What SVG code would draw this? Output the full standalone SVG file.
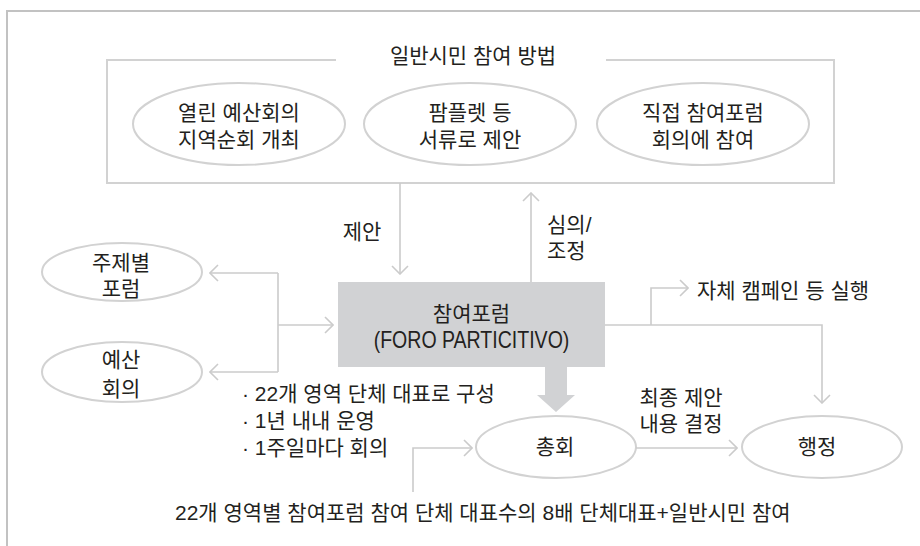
<svg xmlns="http://www.w3.org/2000/svg" width="920" height="546" viewBox="0 0 920 546">
<style>
text{font-family:"Liberation Sans","Noto Sans CJK KR",sans-serif;font-size:21px;fill:#231f20}
.c{text-anchor:middle}
.ell{fill:#fff;stroke:#d2d2d2;stroke-width:2}
.ln{fill:none;stroke:#cbcbcb;stroke-width:1.6}
</style>
<defs>
<marker id="ah" markerUnits="userSpaceOnUse" viewBox="0 0 10 18" refX="9" refY="9" markerWidth="10" markerHeight="18" orient="auto">
<path d="M1,1 L9,9 L1,17" fill="none" stroke="#cbcbcb" stroke-width="1.6"/>
</marker>
</defs>
<rect width="920" height="546" fill="#fff"/>
<path d="M7,546 V11 H920" fill="none" stroke="#c2c2c2" stroke-width="2"/>
<g id="citizen-box">
<path d="M336,60 H107 V183 H834 V60 H606" fill="none" stroke="#d2d2d2" stroke-width="2"/>
<text class="c" x="473" y="63">일반시민 참여 방법</text>
</g>
<g id="node-open-budget">
<ellipse class="ell" cx="239" cy="124" rx="106" ry="41"/>
<text class="c" x="239" y="120">열린 예산회의</text>
<text class="c" x="239" y="147">지역순회 개최</text>
</g>
<g id="node-pamphlet">
<ellipse class="ell" cx="470" cy="124" rx="106" ry="41"/>
<text class="c" x="470" y="120">팜플렛 등</text>
<text class="c" x="470" y="147">서류로 제안</text>
</g>
<g id="node-direct">
<ellipse class="ell" cx="703" cy="124" rx="106" ry="41"/>
<text class="c" x="703" y="120">직접 참여포럼</text>
<text class="c" x="703" y="147">회의에 참여</text>
</g>
<g id="node-forum">
<rect x="338" y="282" width="267" height="85" fill="#d1d2d4"/>
<text class="c" x="471.5" y="321">참여포럼</text>
<text class="c" transform="translate(471.5,348) scale(0.85,1)" style="font-size:23px">(FORO PARTICITIVO)</text>
</g>
<g id="node-theme">
<ellipse class="ell" cx="122" cy="272" rx="80" ry="29"/>
<text class="c" x="121" y="270">주제별</text>
<text class="c" x="121" y="296">포럼</text>
</g>
<g id="node-budget">
<ellipse class="ell" cx="122" cy="372" rx="80" ry="30"/>
<text class="c" x="121" y="367">예산</text>
<text class="c" x="121" y="396">회의</text>
</g>
<g id="node-assembly">
<ellipse class="ell" cx="556" cy="447" rx="80" ry="31"/>
<text class="c" x="555" y="454">총회</text>
</g>
<g id="node-admin">
<ellipse class="ell" cx="822" cy="447" rx="80" ry="31"/>
<text class="c" x="817" y="454">행정</text>
</g>
<g id="connectors">
<path class="ln" d="M400,183 V274" marker-end="url(#ah)"/>
<path class="ln" d="M531,282 V193" marker-end="url(#ah)"/>
<path class="ln" d="M278,273 V372"/>
<path class="ln" d="M278,273 H210" marker-end="url(#ah)"/>
<path class="ln" d="M278,372 H210" marker-end="url(#ah)"/>
<path class="ln" d="M278,325 H333" marker-end="url(#ah)"/>
<path class="ln" d="M605,325 H822 V403" marker-end="url(#ah)"/>
<path class="ln" d="M651,325 V288 H688" marker-end="url(#ah)"/>
<path class="ln" d="M413,492 V448 H472" marker-end="url(#ah)"/>
<path class="ln" d="M636,448 H737" marker-end="url(#ah)"/>
<polygon points="545,367 567,367 567,395 575,395 556,412 537,395 545,395" fill="#d1d2d4"/>
</g>
<g id="labels">
<text class="c" x="362" y="239">제안</text>
<text x="547" y="232">심의/</text>
<text x="547" y="258">조정</text>
<text x="697" y="298">자체 캠페인 등 실행</text>
<text x="242" y="401">· 22개 영역 단체 대표로 구성</text>
<text x="242" y="428">· 1년 내내 운영</text>
<text x="242" y="455">· 1주일마다 회의</text>
<text class="c" x="681" y="405">최종 제안</text>
<text class="c" x="681" y="431">내용 결정</text>
<text x="175" y="520">22개 영역별 참여포럼 참여 단체 대표수의 8배 단체대표+일반시민 참여</text>
</g>
</svg>
